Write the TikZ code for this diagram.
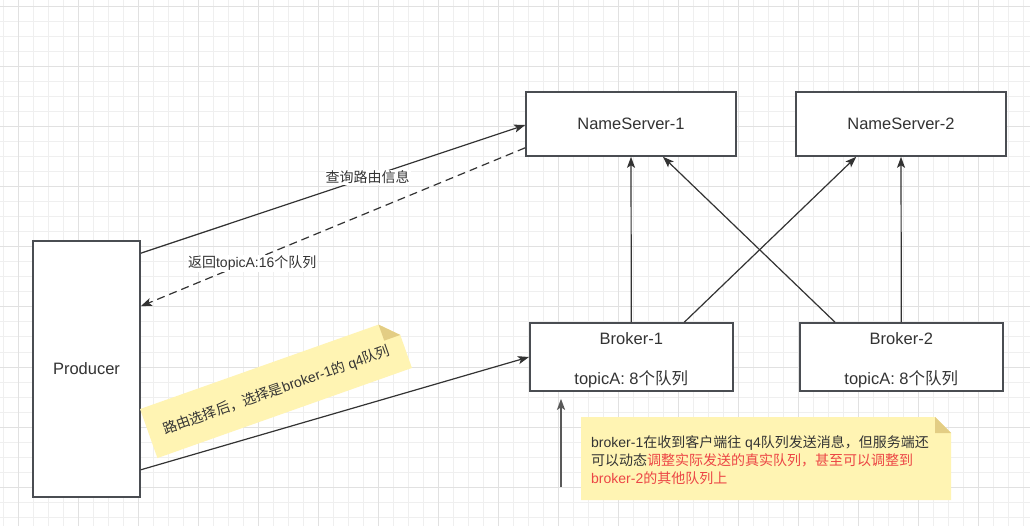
\documentclass[tikz,border=0pt]{standalone}
\usepackage{fontspec}
\setmainfont{Liberation Sans}
\newfontfamily\cjk{Noto Sans CJK SC}
\usepackage{tikz}
\usetikzlibrary{arrows.meta,calc}
\definecolor{ink}{HTML}{333333}
\definecolor{edge}{HTML}{4A4D52}
\definecolor{gridminor}{HTML}{EFEFEF}
\definecolor{gridmajor}{HTML}{E1E1E1}
\definecolor{notefill}{HTML}{FFF4B3}
\definecolor{notefold}{HTML}{E3CD84}
\definecolor{notered}{HTML}{EC4545}
\def\zh#1{{\cjk #1}}
\tikzset{
  box/.style={draw=edge, line width=1.6pt, fill=white, text=ink, font=\fontsize{16.5}{20}\selectfont, align=center, inner sep=0pt},
  link/.style={draw=ink, line width=1.2pt, -{Stealth[length=11pt,width=8pt,inset=2.5pt]}},
  tag/.style={fill=white, text=ink, font=\fontsize{14}{17}\selectfont, inner sep=1pt},
  notetext/.style={text=ink, font=\fontsize{14}{18}\selectfont, inner sep=0pt},
}

\begin{document}
\begin{tikzpicture}[x=1pt,y=-1pt]
			%%%%% GRID %%%%%
			\useasboundingbox (0,0) rectangle (1030,526);
			\fill[white] (0,0) rectangle (1030,526);
			\foreach \gx in {0,...,68} \draw[gridminor, line width=1pt] ({3.3+15*\gx},0) -- ({3.3+15*\gx},526);
			\foreach \gy in {0,...,34} \draw[gridminor, line width=1pt] (0,{7+15*\gy}) -- (1030,{7+15*\gy});
			\foreach \gx in {0,...,16} \draw[gridmajor, line width=1pt] ({18.3+60*\gx},0) -- ({18.3+60*\gx},526);
			\foreach \gy in {0,...,8} \draw[gridmajor, line width=1pt] (0,{7+60*\gy}) -- (1030,{7+60*\gy});
			
			%%%%% BOXES %%%%%
			\node[box, minimum width=210pt, minimum height=64pt] (ns1) at (631,124) {NameServer-1};
			\node[box, minimum width=210pt, minimum height=64pt] (ns2) at (901,124) {NameServer-2};
			\node[box, minimum width=203pt, minimum height=68pt] (b1) at (631.3,357) {\rule{0pt}{18pt}Broker-1\\[20pt]topicA: 8\zh{个队列}};
			\node[box, minimum width=203pt, minimum height=68pt] (b2) at (901.3,357) {\rule{0pt}{18pt}Broker-2\\[20pt]topicA: 8\zh{个队列}};
			\node[box, minimum width=107pt, minimum height=256pt] (producer) at (86.5,369) {Producer};
			
			%%%%% ARROWS %%%%%
			\draw[link] ([yshift=-13pt]producer.north east) -- node[tag, pos=0.59] {\zh{查询路由信息}} ([yshift=-1pt]ns1.west);
			\draw[link, dash pattern=on 8pt off 5pt] ([yshift=9pt]ns1.south west) -- node[tag, pos=0.71, yshift=-3pt] {\zh{返回}topicA:16\zh{个队列}} ([yshift=-66pt]producer.north east);
			\draw[link] ([yshift=28pt]producer.south east) -- (b1.west);
			
			\draw[link] (b1.north) -- (ns1.south);
			\draw[link] ([xshift=53pt]b1.north) -- ([xshift=61pt]ns2.south west);
			\draw[link] ([xshift=36pt]b2.north west) -- ([xshift=32pt]ns1.south);
			\draw[link] (b2.north) -- (ns2.south);
			
			\coordinate (push) at (561,487);
			\draw[link, draw=black!65, line width=2pt] (push) -- ([xshift=-70.3pt,yshift=-7pt]b1.south);
			
			%%%%% NOTES %%%%%
			\begin{scope}[shift={(276,388.5)}, rotate=19.5]
				\fill[notefill] (-135,-26) -- (118,-26) -- (135,-9) -- (135,26) -- (-135,26) -- cycle;
				\fill[notefold] (118,-26) -- (118,-9) -- (135,-9) -- cycle;
				\node[notetext, rotate=19.5] (tip1) at (0,2) {\zh{路由选择后，选择是}broker-1\zh{的} q4\zh{队列}};
			\end{scope}
			
			\fill[notefill] (581,417) -- (935,417) -- (951,433) -- (951,500) -- (581,500) -- cycle;
			\fill[notefold] (935,417) -- (935,433) -- (951,433) -- cycle;
			\node[notetext, anchor=north west, align=left] (tip2) at (591,435) {broker-1\zh{在收到客户端往} q4\zh{队列发送消息，但服务端还}\\
				\zh{可以动态}\textcolor{notered}{\zh{调整实际发送的真实队列，甚至可以调整到}}\\
				\textcolor{notered}{broker-2\zh{的其他队列上}}};
			
\end{tikzpicture}
\end{document}
